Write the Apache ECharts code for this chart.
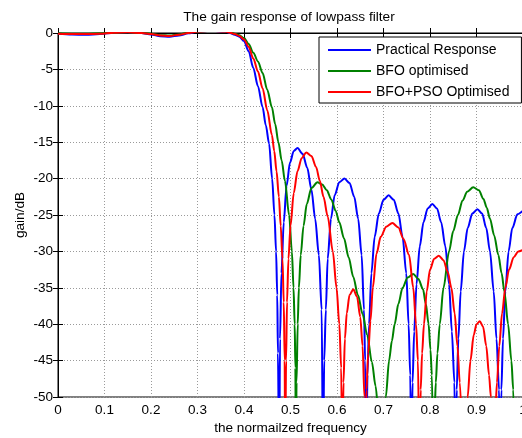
<!DOCTYPE html>
<html>
<head>
<meta charset="utf-8">
<script src="https://cdn.jsdelivr.net/npm/echarts@6/dist/echarts.min.js"></script>
<style>
html,body{margin:0;padding:0;background:#fff;}
#chart{width:522px;height:438px;}
</style>
</head>
<body>
<div id="chart"></div>
<script>
// ---- data (normalized frequency, gain in dB) ----
var seriesNames = ['Practical Response', 'BFO optimised', 'BFO+PSO Optimised'];

var blueFreq = [0,0.03,0.06,0.09,0.12,0.15,0.18,0.2,0.22,0.24,0.26,0.28,0.3,0.33,0.36,0.37,0.38,0.39,0.40,0.41,0.42,0.43,0.44,0.447,0.454,0.4605,0.4655,0.469,0.4715,0.473,0.4756,
  0.4775,0.4805,0.4855,0.4915,0.499,0.507,0.515,0.526,0.536,0.545,0.553,0.561,0.567,0.570,
  0.5725,0.576,0.580,0.587,0.595,0.605,0.616,0.627,0.637,0.6455,0.653,0.658,0.6605,0.663,
  0.6655,0.669,0.674,0.681,0.690,0.700,0.711,0.722,0.732,0.741,0.749,0.754,0.7575,0.760,
  0.7625,0.766,0.771,0.778,0.786,0.795,0.805,0.815,0.824,0.833,0.841,0.847,0.8525,0.855,
  0.8575,0.861,0.866,0.873,0.881,0.891,0.902,0.912,0.921,0.929,0.937,0.943,0.9485,0.951,
  0.9535,0.957,0.962,0.969,0.977,0.988,1.0];
var blueGain = [-0.1,-0.2,-0.25,-0.15,0.05,0.1,0,-0.2,-0.45,-0.5,-0.35,-0.05,0.2,0.3,0.2,0.0,-0.25,-0.5,-1.1,-2.5,-4.8,-7.3,-10.2,-12.7,-15.2,-20,-25,-30,-36,-44,-60,
  -42,-33,-26,-21,-17.8,-16.2,-15.8,-16.6,-18.5,-21.5,-25.5,-30.5,-38,-60,
  -45,-38,-31,-25.5,-22.3,-20.5,-20.0,-20.6,-22.5,-25.5,-30.5,-38,-45,-60,
  -47,-40,-33,-28,-24.8,-22.9,-22.3,-22.9,-24.8,-28,-33,-40,-47,-60,
  -48,-41,-34.5,-29.3,-26,-24.1,-23.5,-24.1,-26,-29.3,-34.5,-41,-48,-60,
  -49,-42,-35.5,-30,-26.8,-24.8,-24.2,-24.8,-26.8,-30,-35.5,-42,-49,-60,
  -49,-42,-35.5,-30,-26.8,-24.9,-24.4];

var greenFreq = [0,0.03,0.06,0.09,0.12,0.15,0.18,0.2,0.22,0.24,0.26,0.28,0.3,0.33,0.36,0.37,0.38,0.39,0.40,0.41,0.42,0.43,0.44,0.45,0.46,0.467,0.474,0.481,0.488,0.497,0.503,0.5065,0.509,0.5105,0.5115,
  0.513,0.5155,0.518,0.522,0.528,0.535,0.545,0.558,0.568,0.578,0.588,0.597,0.605,0.615,0.625,0.635,0.645,0.655,0.665,0.675,0.683,0.690,0.697,
  0.701,0.705,0.712,0.718,0.724,0.732,0.741,0.752,0.764,0.775,0.785,0.791,0.797,0.801,0.804,0.8075,
  0.810,0.8125,0.816,0.821,0.829,0.841,0.850,0.860,0.870,0.880,0.893,0.905,0.915,0.922,0.929,0.938,0.947,0.954,0.960,0.968,0.975,0.979,0.983,1.0];
var greenGain = [-0.05,-0.1,-0.1,-0.05,0.05,0.1,0,-0.1,-0.3,-0.35,-0.2,0.05,0.2,0.3,0.25,0.1,-0.1,-0.3,-0.7,-1.5,-2.7,-3.9,-5.5,-7.8,-10.2,-12.5,-15,-17.5,-20.3,-25,-30,-35,-40,-46,-60,
  -48,-40,-35,-30.5,-26.5,-23.5,-21.3,-20.5,-20.8,-21.6,-22.9,-24.4,-26,-28.2,-30.8,-33.5,-36,-38.6,-41.5,-45.2,-48.5,-53,-60,
  -54,-50,-45,-42.3,-40,-37.2,-35,-33.6,-33.1,-33.8,-35.2,-37.2,-40,-43.5,-47,-60,
  -52,-48,-44,-40,-35,-30,-27.2,-25,-23,-21.8,-21.2,-21.6,-22.8,-24,-25.5,-27.8,-30.5,-33,-35.5,-40,-45,-49,-60,-56];

var redFreq = [0,0.03,0.06,0.09,0.12,0.15,0.18,0.2,0.22,0.24,0.26,0.28,0.3,0.33,0.36,0.37,0.38,0.39,0.40,0.41,0.42,0.43,0.44,0.45,0.46,0.465,0.47,0.475,0.479,0.4827,0.4855,0.4875,0.4885,
  0.4905,0.4925,0.4956,0.500,0.507,0.515,0.524,0.534,0.545,0.555,0.563,0.571,0.580,0.591,0.599,0.605,0.609,0.6115,
  0.614,0.617,0.621,0.627,0.635,0.643,0.650,0.655,0.659,0.661,
  0.6635,0.667,0.672,0.677,0.685,0.694,0.706,0.719,0.732,0.743,0.755,0.764,0.770,0.774,0.7775,
  0.780,0.783,0.787,0.793,0.800,0.809,0.819,0.829,0.838,0.846,0.853,0.859,0.864,0.8725,
  0.877,0.881,0.887,0.894,0.900,0.907,0.914,0.921,0.927,0.931,0.9365,
  0.940,0.944,0.949,0.955,0.962,0.970,0.980,0.990,1.0];
var redGain = [-0.1,-0.15,-0.15,-0.1,0.05,0.1,0,-0.15,-0.35,-0.4,-0.25,0,0.2,0.3,0.2,0.05,-0.15,-0.4,-0.9,-1.9,-3.5,-5.3,-7.6,-10.6,-14,-16.2,-19,-22.5,-26.5,-31,-37,-45,-60,
  -45,-37,-31,-26.5,-22,-19,-17.2,-16.4,-16.9,-18.4,-20.3,-22.5,-25.2,-30,-35,-40,-46,-60,
  -48,-42,-38.5,-36,-35.2,-36.2,-39,-43,-50,-60,
  -49,-44,-39.5,-35,-30.3,-28,-26.6,-26.1,-26.7,-28.3,-30.5,-35,-40,-45,-60,
  -49,-44,-40,-35.5,-32.5,-31,-30.6,-31.2,-32.8,-35,-38.5,-43,-48,-60,
  -55,-50,-45,-41.5,-40,-39.6,-40.3,-43,-47,-50,-60,
  -53,-48,-43,-38.5,-35,-32.5,-30.8,-30,-29.8];

function zip(fs, gs) { return fs.map(function (f, i) { return [f, gs[i]]; }); }

var FONT = '"Liberation Sans", Arial, sans-serif';
var chart = echarts.init(document.getElementById('chart'), null, {renderer: 'canvas'});

var axisLineStyle = {show: true, lineStyle: {color: '#000', width: 1}};
var axisTickStyle = {show: true, inside: true, length: 5, lineStyle: {color: '#000'}};
var gridLineStyle = {show: true, lineStyle: {color: '#9a9a9a', type: [1, 2], width: 1}};

chart.setOption({
  animation: false,
  backgroundColor: '#fff',
  title: {
    text: 'The gain response of lowpass filter',
    left: 284, top: 5, textAlign: 'center',
    textStyle: {fontFamily: FONT, fontSize: 13.7, fontWeight: 'normal', color: '#000'}
  },
  legend: {
    orient: 'vertical', left: 319, top: 37,
    padding: [6, 12, 4, 9],
    backgroundColor: '#fff', borderColor: '#000', borderWidth: 1,
    icon: 'rect', itemWidth: 43, itemHeight: 2, itemGap: 7,
    textStyle: {fontFamily: FONT, fontSize: 14, color: '#000', lineHeight: 14},
    data: seriesNames
  },
  grid: {left: 58, top: 33, width: 465, height: 364, show: true, borderColor: '#000', borderWidth: 1,
         backgroundColor: '#fff', outerBoundsMode: 'none', containLabel: false},
  xAxis: [{
    type: 'value', min: 0, max: 1, interval: 0.1,
    name: 'the normailzed frequency', nameLocation: 'middle', nameGap: 24, nameMoveOverlap: false,
    nameTextStyle: {fontFamily: FONT, fontSize: 13.6, color: '#000'},
    axisLine: axisLineStyle, axisTick: axisTickStyle,
    axisLabel: {fontFamily: FONT, fontSize: 13.5, color: '#000', margin: 6, showMaxLabel: true, showMinLabel: true, hideOverlap: false},
    splitLine: gridLineStyle
  }, {
    type: 'value', min: 0, max: 1, interval: 0.1, position: 'top',
    axisLine: axisLineStyle, axisTick: axisTickStyle,
    axisLabel: {show: false}, splitLine: {show: false}
  }],
  yAxis: [{
    type: 'value', min: -50, max: 0, interval: 5,
    name: 'gain/dB', nameLocation: 'middle', nameGap: 31, nameRotate: 90, nameMoveOverlap: false,
    nameTextStyle: {fontFamily: FONT, fontSize: 13.6, color: '#000'},
    axisLine: axisLineStyle, axisTick: axisTickStyle,
    axisLabel: {fontFamily: FONT, fontSize: 13.5, color: '#000', margin: 5},
    splitLine: gridLineStyle
  }, {
    type: 'value', min: -50, max: 0, interval: 5, position: 'right',
    axisLine: axisLineStyle, axisTick: axisTickStyle,
    axisLabel: {show: false}, splitLine: {show: false}
  }],
  series: [
    {name: seriesNames[0], type: 'line', data: zip(blueFreq, blueGain), color: '#0000ff',
     lineStyle: {width: 2, color: '#0000ff'}, showSymbol: false, symbol: 'none', smooth: 0.3, smoothMonotone: 'x', clip: true},
    {name: seriesNames[1], type: 'line', data: zip(greenFreq, greenGain), color: '#008000',
     lineStyle: {width: 2, color: '#008000'}, showSymbol: false, symbol: 'none', smooth: 0.3, smoothMonotone: 'x', clip: true},
    {name: seriesNames[2], type: 'line', data: zip(redFreq, redGain), color: '#ff0000',
     lineStyle: {width: 2, color: '#ff0000'}, showSymbol: false, symbol: 'none', smooth: 0.3, smoothMonotone: 'x', clip: true}
  ]
});
</script>
</body>
</html>
